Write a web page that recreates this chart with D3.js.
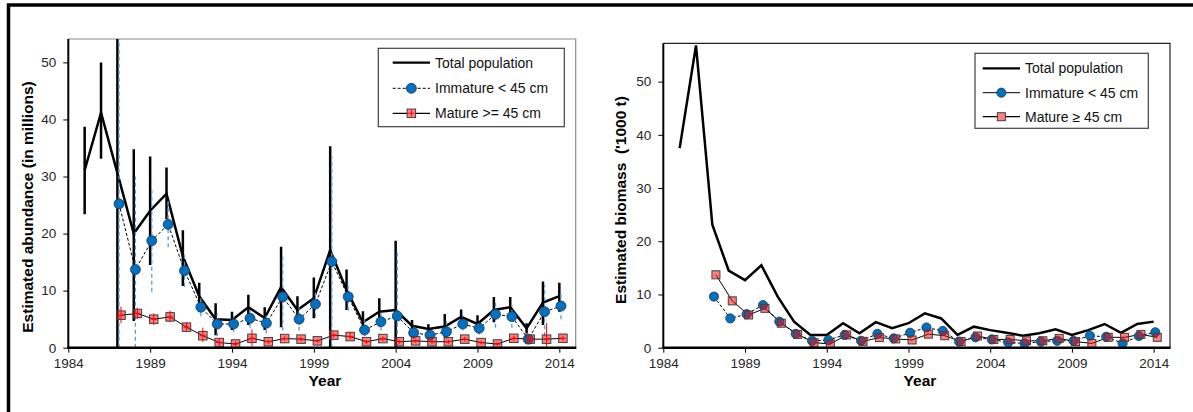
<!DOCTYPE html>
<html>
<head>
<meta charset="utf-8">
<script src="https://cdn.jsdelivr.net/npm/d3@7"></script>
<style>
  body { margin: 0; background: #fff; }
  svg { display: block; font-family: "Liberation Sans", Arial, sans-serif; }
  .tick text { fill: #262626; font-size: 13.5px; }
</style>
</head>
<body>
<div id="chart"></div>
<script>
// survey years
var yearsTotal = [1985, 1986, 1987, 1988, 1989, 1990, 1991, 1992, 1993, 1994, 1995, 1996, 1997, 1998, 1999,
                  2000, 2001, 2002, 2003, 2004, 2005, 2006, 2007, 2008, 2009, 2010, 2011, 2012, 2013, 2014];
var yearsSplit = [1987, 1988, 1989, 1990, 1991, 1992, 1993, 1994, 1995, 1996, 1997, 1998, 1999,
                  2000, 2001, 2002, 2003, 2004, 2005, 2006, 2007, 2008, 2009, 2010, 2011, 2012, 2013, 2014];

// abundance (millions)
var abundTotal   = [31.1, 41.2, 30.6, 20.0, 24.0, 27.0, 16.0, 9.0, 5.0, 4.85, 7.1, 5.2, 10.6, 6.6, 8.65,
                    17.1, 10.1, 4.45, 6.3, 6.6, 3.85, 3.3, 3.7, 5.4, 4.15, 6.6, 7.1, 3.4, 7.9, 9.05];
var abundTotalLo = [23.4, 33.1, 0, 4.7, 14.5, 22.5, 10.8, 6.3, 2.2, 3.1, 4.0, 3.1, 3.6, 4.85, 5.15,
                    0, 6.6, 2.5, 4.0, 0, 2.8, 2.5, 1.9, 4.15, 2.8, 4.45, 5.5, 2.5, 4.0, 6.3];
var abundTotalHi = [38.7, 50.0, 60, 34.8, 33.5, 31.6, 20.6, 11.4, 7.8, 6.3, 9.3, 7.1, 17.7, 9.0, 12.3,
                    35.3, 13.7, 6.4, 8.65, 18.75, 4.85, 4.1, 5.9, 6.7, 5.7, 8.9, 8.9, 4.3, 11.6, 11.4];

var abundImm   = [25.2, 13.7, 18.75, 21.6, 13.5, 7.1, 4.15, 4.15, 5.15, 4.3, 8.9, 5.0, 7.65,
                  15.1, 8.95, 3.1, 4.55, 5.55, 2.6, 2.2, 2.8, 4.15, 3.4, 5.85, 5.45, 1.5, 6.3, 7.3];
var abundImmLo = [0, 0, 9.8, 17.6, 10.7, 5.5, 2.0, 2.7, 3.5, 2.5, 3.0, 3.0, 5.3,
                  0, 6.5, 2.0, 3.0, 0, 1.5, 1.3, 1.5, 3.0, 2.3, 3.5, 3.5, 1.0, 2.0, 5.0];
var abundImmHi = [60, 30.0, 27.75, 26.0, 16.5, 8.7, 6.0, 5.5, 7.0, 6.0, 16.1, 7.0, 10.0,
                  33.5, 11.5, 5.0, 6.5, 17.0, 4.0, 3.0, 5.0, 5.7, 4.5, 8.0, 7.5, 2.0, 11.0, 10.0];

var abundMat   = [5.7, 6.0, 5.0, 5.4, 3.6, 2.1, 0.9, 0.65, 1.65, 1.05, 1.6, 1.5, 1.2,
                  2.2, 1.95, 1.05, 1.6, 1.05, 1.2, 1.05, 1.05, 1.5, 0.9, 0.65, 1.65, 1.5, 1.5, 1.65];
var abundMatLo = [4.3, 5.0, 4.0, 4.5, 3.0, 1.0, 0.2, 0.2, 0.2, 0.7, 1.2, 1.1, 0.9,
                  1.8, 1.5, 0.7, 1.2, 0.7, 0.9, 0.7, 0.7, 1.1, 0.6, 0.4, 1.2, 1.1, 0, 1.2];
var abundMatHi = [7.2, 7.0, 6.0, 6.5, 4.5, 3.5, 1.7, 1.1, 3.2, 1.4, 2.0, 1.9, 1.5,
                  2.6, 2.8, 1.4, 2.0, 1.4, 1.5, 1.4, 1.4, 1.9, 1.2, 0.9, 2.1, 1.9, 4.3, 2.1];

// biomass ('000 t)
var bioTotal = [37.5, 56.8, 23.1, 14.5, 12.7, 15.5, 9.6, 4.9, 2.4, 2.4, 4.6, 2.7, 4.8, 3.65, 4.6,
                6.45, 5.5, 2.4, 3.95, 3.3, 2.8, 2.25, 2.7, 3.45, 2.4, 3.3, 4.45, 2.8, 4.45, 4.9];
var bioImm = [9.6, 5.5, 6.3, 8.0, 4.9, 2.6, 1.3, 1.45, 2.4, 1.3, 2.6, 1.75, 2.8,
              3.8, 3.15, 1.15, 1.95, 1.55, 1.0, 0.8, 1.15, 1.3, 1.3, 2.25, 2.05, 0.8, 2.2, 2.9];
var bioMat = [13.7, 8.8, 6.15, 7.4, 4.6, 2.5, 0.95, 0.7, 2.4, 1.2, 1.9, 1.65, 1.45,
              2.55, 2.25, 1.15, 2.2, 1.55, 1.55, 1.3, 1.3, 1.75, 1.15, 0.8, 1.95, 1.95, 2.5, 1.95];

var xTicks = [1984, 1989, 1994, 1999, 2004, 2009, 2014];
var yTicks = [0, 10, 20, 30, 40, 50];

var blue = '#0070c0', red = '#ff0000';

var svg = d3.select('#chart').append('svg')
    .attr('width', 1193)
    .attr('height', 412);

// outer frame (only top and left edges fall inside the picture)
svg.append('path')
    .attr('d', 'M8.5,420V5H1200')
    .attr('fill', 'none')
    .attr('stroke', '#000')
    .attr('stroke-width', 3.5);

function zip(xs, ys, lo, hi) {
  return xs.map(function (x, i) {
    return {year: x, v: ys[i], lo: lo ? lo[i] : null, hi: hi ? hi[i] : null};
  });
}

function panel(o) {
  var x = d3.scaleLinear().domain([1984, 2015]).range([o.x0, o.x1]);
  var y = d3.scaleLinear().domain([0, o.yMax]).range([o.y1, o.y0]);
  var g = svg.append('g');

  g.append('clipPath').attr('id', o.id)
    .append('rect')
    .attr('x', o.x0).attr('y', o.y0)
    .attr('width', o.x1 - o.x0).attr('height', o.y1 - o.y0);

  // frame on top and right
  g.append('path')
    .attr('d', 'M' + o.x0 + ',' + o.y0 + 'H' + o.x1 + 'V' + o.y1)
    .attr('fill', 'none')
    .attr('stroke', o.frame)
    .attr('stroke-width', 1.2);

  var xAxis = d3.axisBottom(x).tickValues(xTicks).tickFormat(d3.format('d'))
      .tickSize(5).tickPadding(6);
  var yAxis = d3.axisLeft(y).tickValues(yTicks).tickSize(5).tickPadding(7);

  g.append('g')
    .attr('transform', 'translate(0,' + o.y1 + ')')
    .call(xAxis)
    .call(function (s) { s.select('.domain').remove(); });
  g.append('g')
    .attr('transform', 'translate(' + o.x0 + ',0)')
    .call(yAxis)
    .call(function (s) { s.select('.domain').remove(); });

  var plot = g.append('g').attr('clip-path', 'url(#' + o.id + ')');

  var lineT = d3.line()
      .x(function (d) { return x(d.year); })
      .y(function (d) { return y(d.v); });
  var lineI = d3.line()
      .x(function (d) { return x(d.year + 0.1); })
      .y(function (d) { return y(d.v); });
  var lineM = d3.line()
      .x(function (d) { return x(d.year + 0.22); })
      .y(function (d) { return y(d.v); });

  var tot = o.total, imm = o.imm, mat = o.mat;

  // Total population
  if (tot[0].hi !== null) {
    plot.selectAll('.errT').data(tot).enter().append('line')
      .attr('x1', function (d) { return x(d.year); })
      .attr('x2', function (d) { return x(d.year); })
      .attr('y1', function (d) { return y(d.lo); })
      .attr('y2', function (d) { return y(d.hi); })
      .attr('stroke', '#000')
      .attr('stroke-width', 2.5);
  }
  plot.append('path')
    .attr('d', lineT(tot))
    .attr('fill', 'none')
    .attr('stroke', '#000')
    .attr('stroke-width', 2.5)
    .attr('stroke-linejoin', 'miter');

  // Immature
  plot.append('path')
    .attr('d', lineI(imm))
    .attr('fill', 'none')
    .attr('stroke', '#000')
    .attr('stroke-width', 1)
    .attr('stroke-dasharray', '3,2');
  if (imm[0].hi !== null) {
    plot.selectAll('.errI').data(imm).enter().append('line')
      .attr('x1', function (d) { return x(d.year + 0.1); })
      .attr('x2', function (d) { return x(d.year + 0.1); })
      .attr('y1', function (d) { return y(d.lo); })
      .attr('y2', function (d) { return y(d.hi); })
      .attr('stroke', '#5b9bd5')
      .attr('stroke-width', 1.3)
      .attr('stroke-dasharray', '4,3');
  }

  // Mature
  plot.append('path')
    .attr('d', lineM(mat))
    .attr('fill', 'none')
    .attr('stroke', '#000')
    .attr('stroke-width', 1);

  plot.selectAll('.ci').data(imm).enter().append('circle')
    .attr('cx', function (d) { return x(d.year + 0.1); })
    .attr('cy', function (d) { return y(d.v); })
    .attr('r', o.r)
    .attr('fill', blue)
    .attr('stroke', '#1f3550')
    .attr('stroke-width', 0.8);

  var s = o.sq;
  plot.selectAll('.sq').data(mat).enter().append('rect')
    .attr('x', function (d) { return x(d.year + 0.22) - s / 2; })
    .attr('y', function (d) { return y(d.v) - s / 2; })
    .attr('width', s).attr('height', s)
    .attr('fill', red)
    .attr('fill-opacity', 0.5)
    .attr('stroke', '#404040')
    .attr('stroke-width', 1);

  if (mat[0].hi !== null) {
    plot.selectAll('.errM').data(mat).enter().append('line')
      .attr('x1', function (d) { return x(d.year + 0.22); })
      .attr('x2', function (d) { return x(d.year + 0.22); })
      .attr('y1', function (d) { return y(d.lo); })
      .attr('y2', function (d) { return y(d.hi); })
      .attr('stroke', red)
      .attr('stroke-width', 1);
    plot.selectAll('.errMh').data(mat).enter().append('line')
      .attr('x1', function (d) { return x(d.year + 0.22) - 3; })
      .attr('x2', function (d) { return x(d.year + 0.22) + 3; })
      .attr('y1', function (d) { return y(d.v); })
      .attr('y2', function (d) { return y(d.v); })
      .attr('stroke', red)
      .attr('stroke-width', 1);
  }

  // axis lines
  g.append('line')
    .attr('x1', o.x0).attr('x2', o.x0)
    .attr('y1', o.y0).attr('y2', o.y1)
    .attr('stroke', '#000').attr('stroke-width', 2);
  g.append('line')
    .attr('x1', o.x0 - 1).attr('x2', o.x1 + 0.6)
    .attr('y1', o.y1).attr('y2', o.y1)
    .attr('stroke', '#000').attr('stroke-width', 2.5);

  // titles
  g.append('text')
    .attr('transform', 'translate(' + o.yTitleX + ',' + o.yTitleY + ') rotate(-90)')
    .attr('text-anchor', 'middle')
    .attr('dy', '0.35em')
    .style('font-size', '15.5px')
    .style('font-weight', 'bold')
    .style('white-space', 'pre')
    .text(o.yTitle);
  g.append('text')
    .attr('x', o.xTitleX)
    .attr('y', 386)
    .attr('text-anchor', 'middle')
    .style('font-size', '15.5px')
    .style('font-weight', 'bold')
    .text('Year');

  // legend
  var L = o.legend;
  var lg = g.append('g');
  lg.append('rect')
    .attr('x', L.x).attr('y', L.y)
    .attr('width', L.w).attr('height', L.h)
    .attr('fill', '#fff')
    .attr('stroke', '#404040')
    .attr('stroke-width', 1.2);
  var mid = (L.s0 + L.s1) / 2;
  lg.append('line')
    .attr('x1', L.s0).attr('x2', L.s1)
    .attr('y1', L.rows[0]).attr('y2', L.rows[0])
    .attr('stroke', '#000').attr('stroke-width', 2.2);
  lg.append('line')
    .attr('x1', L.s0).attr('x2', L.s1)
    .attr('y1', L.rows[1]).attr('y2', L.rows[1])
    .attr('stroke', '#000').attr('stroke-width', 1)
    .attr('stroke-dasharray', L.dashImm ? '3,2' : null);
  lg.append('circle')
    .attr('cx', mid).attr('cy', L.rows[1]).attr('r', o.r)
    .attr('fill', blue).attr('stroke', '#1f3550').attr('stroke-width', 0.8);
  lg.append('line')
    .attr('x1', L.s0).attr('x2', L.s1)
    .attr('y1', L.rows[2]).attr('y2', L.rows[2])
    .attr('stroke', '#000').attr('stroke-width', 1.2);
  lg.append('rect')
    .attr('x', mid - s / 2).attr('y', L.rows[2] - s / 2)
    .attr('width', s).attr('height', s)
    .attr('fill', '#ff8080').attr('stroke', '#404040');
  if (mat[0].hi !== null) {
    lg.append('path')
      .attr('d', 'M' + mid + ',' + (L.rows[2] - 3) + 'v6M' + (mid - 3) + ',' + L.rows[2] + 'h6')
      .attr('stroke', red);
  }
  lg.selectAll('.lt').data(L.labels).enter().append('text')
    .attr('x', L.s1 + 5)
    .attr('y', function (d, i) { return L.rows[i]; })
    .attr('dy', '0.35em')
    .style('font-size', '14px')
    .attr('fill', '#111')
    .text(function (d) { return d; });
}

panel({
  id: 'clipA',
  x0: 68.3, x1: 575.7, y0: 39, y1: 347.7, yMax: 54.1,
  frame: '#8c8c8c',
  r: 5, sq: 8.5,
  total: zip(yearsTotal, abundTotal, abundTotalLo, abundTotalHi),
  imm: zip(yearsSplit, abundImm, abundImmLo, abundImmHi),
  mat: zip(yearsSplit, abundMat, abundMatLo, abundMatHi),
  yTitle: 'Estimated abundance (in millions)',
  yTitleX: 28, yTitleY: 207,
  xTitleX: 325,
  legend: {
    x: 378.3, y: 48.3, w: 186, h: 78.4,
    rows: [62.7, 88.3, 113.3], s0: 392.7, s1: 430, dashImm: true,
    labels: ['Total population', 'Immature < 45 cm', 'Mature >= 45 cm']
  }
});

panel({
  id: 'clipB',
  x0: 663.3, x1: 1170, y0: 43.3, y1: 347.7, yMax: 57.2,
  frame: '#222',
  r: 4.6, sq: 8,
  total: zip(yearsTotal, bioTotal),
  imm: zip(yearsSplit, bioImm),
  mat: zip(yearsSplit, bioMat),
  yTitle: "Estimated biomass  ('1000 t)",
  yTitleX: 621, yTitleY: 200,
  xTitleX: 920,
  legend: {
    x: 975, y: 53.3, w: 173.3, h: 75,
    rows: [68.3, 92.7, 116.7], s0: 982.7, s1: 1020, dashImm: false,
    labels: ['Total population', 'Immature < 45 cm', 'Mature \u2265 45 cm']
  }
});
</script>
</body>
</html>
